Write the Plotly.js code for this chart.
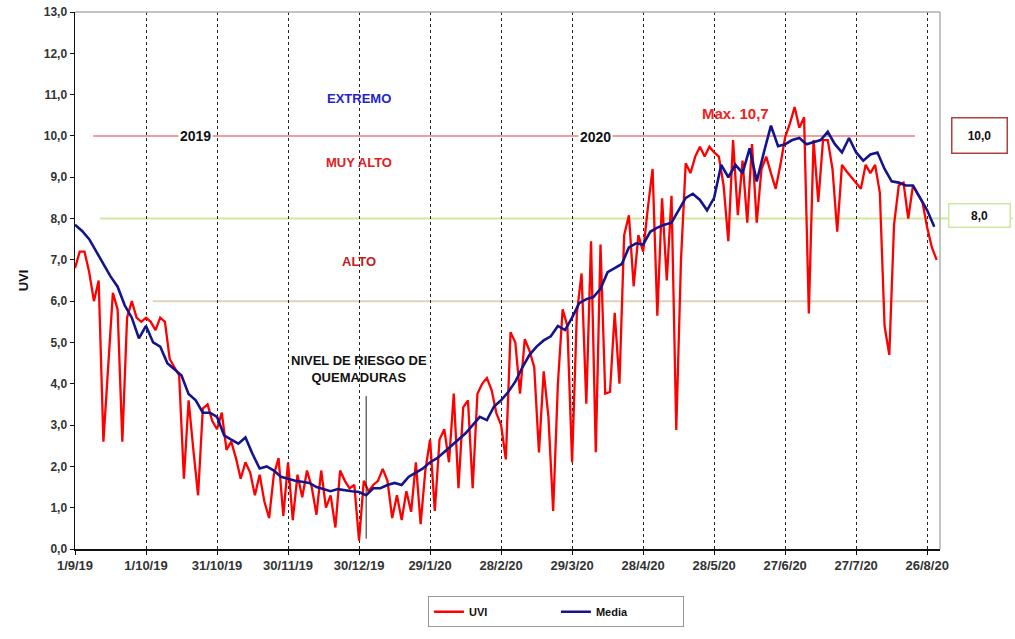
<!DOCTYPE html>
<html><head><meta charset="utf-8">
<script src="https://cdn.plot.ly/plotly-3.0.1.min.js"></script>
<style>html,body{margin:0;padding:0;background:#fff}#chart{width:1015px;height:639px}</style>
</head><body><div id="chart"></div>
<script>
const startDate = "2019-09-01";
const uviStepDays = 2;
const uvi = [
  6.8, 7.2, 7.2, 6.7, 6.0, 6.5, 2.6, 4.5, 6.2, 5.8,
  2.6, 5.6, 6.0, 5.6, 5.5, 5.6, 5.5, 5.3, 5.6, 5.5,
  4.6, 4.4, 4.2, 1.7, 3.6, 2.4, 1.3, 3.4, 3.5, 3.1,
  2.9, 3.3, 2.4, 2.6, 2.2, 1.7, 2.1, 1.85, 1.3, 1.8,
  1.15, 0.75, 1.8, 2.2, 0.8, 2.1, 0.7, 1.8, 1.25, 1.9,
  1.5, 0.83, 1.9, 1.0, 1.3, 0.52, 1.9, 1.65, 1.47, 1.55,
  0.2, 1.65, 1.4, 1.55, 1.65, 1.94, 1.65, 0.75, 1.3, 0.7,
  1.4, 0.9, 2.1, 0.6, 1.9, 2.65, 0.92, 2.65, 2.9, 2.1,
  3.76, 1.47, 3.43, 3.6, 1.47, 3.76, 4.0, 4.14, 3.85, 3.29,
  3.0, 2.17, 5.25, 5.0, 3.76, 5.08, 4.8, 4.4, 2.34, 4.3,
  3.2, 0.92, 4.0, 5.8, 5.4, 2.1, 5.7, 6.67, 3.52, 7.45,
  2.34, 7.37, 3.76, 3.8, 5.72, 4.0, 7.6, 8.08, 6.36, 7.6,
  7.2, 8.25, 9.2, 5.65, 8.49, 6.5, 8.55, 2.88, 7.0, 9.34,
  9.1, 9.5, 9.74, 9.5, 9.74, 9.6, 9.5, 8.8, 7.45, 9.9,
  8.08, 9.4, 7.9, 9.8, 7.9, 9.2, 9.5, 9.1, 8.72, 9.3,
  9.97, 10.3, 10.7, 10.2, 10.45, 5.7, 9.9, 8.4, 9.9, 9.9,
  9.2, 7.68, 9.3, 9.14, 9.0, 8.87, 8.72, 9.3, 9.1, 9.3,
  8.63, 5.4, 4.7, 7.85, 8.8, 8.87, 8.0, 8.8, 8.6, 8.4,
  7.78, 7.3, 7.0
];
const mediaStepDays = 3;
const media = [
  7.85, 7.7, 7.5, 7.2, 6.9, 6.6, 6.35, 5.9, 5.6, 5.1,
  5.4, 5.0, 4.9, 4.5, 4.35, 4.2, 3.75, 3.6, 3.3, 3.3,
  3.2, 2.75, 2.65, 2.55, 2.7, 2.3, 1.95, 2.0, 1.9, 1.75,
  1.7, 1.65, 1.63, 1.6, 1.5, 1.45, 1.4, 1.45, 1.42, 1.4,
  1.38, 1.3, 1.47, 1.47, 1.55, 1.6, 1.55, 1.75, 1.85, 1.95,
  2.1, 2.2, 2.35, 2.5, 2.65, 2.8, 3.0, 3.2, 3.12, 3.45,
  3.6, 3.8, 4.05, 4.4, 4.7, 4.9, 5.05, 5.15, 5.4, 5.3,
  5.6, 5.95, 6.05, 6.1, 6.3, 6.7, 6.8, 6.9, 7.3, 7.4,
  7.37, 7.68, 7.78, 7.85, 7.9, 8.2, 8.5, 8.6, 8.45, 8.2,
  8.5, 9.3, 9.0, 9.3, 9.1, 9.7, 8.9, 9.6, 10.25, 9.75,
  9.8, 9.9, 9.95, 9.8, 9.85, 9.9, 10.1, 9.8, 9.6, 9.95,
  9.6, 9.4, 9.55, 9.6, 9.2, 8.9, 8.87, 8.8, 8.8, 8.5,
  8.2, 7.8
];
const tickDates = ["2019-09-01","2019-10-01","2019-10-31","2019-11-30","2019-12-30","2020-01-29","2020-02-28","2020-03-29","2020-04-28","2020-05-28","2020-06-27","2020-07-27","2020-08-26"];
const tickLabels = ["1/9/19","1/10/19","31/10/19","30/11/19","30/12/19","29/1/20","28/2/20","29/3/20","28/4/20","28/5/20","27/6/20","27/7/20","26/8/20"];
const riskLevels = [10, 8, 6];
const riskLevelLabels = ["10,0", "8,0"];
const yMax = 13;

function addDays(s, n) {
  const d = new Date(s + "T00:00:00Z");
  d.setUTCDate(d.getUTCDate() + n);
  return d.toISOString().slice(0, 10);
}
const uviX = uvi.map((v, i) => addDays(startDate, i * uviStepDays));
const mediaX = media.map((v, i) => addDays(startDate, i * mediaStepDays));

const F = "Liberation Sans, Arial, sans-serif";
const traces = [
  {x: uviX, y: uvi, type: "scatter", mode: "lines", name: "UVI",
   line: {color: "#ff0000", width: 2.3}},
  {x: mediaX, y: media, type: "scatter", mode: "lines", name: "Media",
   line: {color: "#14148c", width: 2.6}}
];

const shapes = [
  {type: "line", xref: "paper", yref: "paper", x0: 0.021, x1: 0.971, y0: riskLevels[0] / yMax, y1: riskLevels[0] / yMax,
   line: {color: "#e88080", width: 1.5}, layer: "below"},
  {type: "line", xref: "paper", yref: "paper", x0: 0.029, x1: 1.084, y0: riskLevels[1] / yMax, y1: riskLevels[1] / yMax,
   line: {color: "#cfe8a0", width: 2}, layer: "below"},
  {type: "line", xref: "paper", yref: "paper", x0: 0.09, x1: 0.985, y0: riskLevels[2] / yMax, y1: riskLevels[2] / yMax,
   line: {color: "#e0d2bc", width: 2}, layer: "below"},
  {type: "line", xref: "paper", yref: "paper", x0: 0, x1: 1, y0: 1, y1: 1, line: {color: "#b0b0b0", width: 1.5}},
  {type: "line", xref: "paper", yref: "paper", x0: 1, x1: 1, y0: 0, y1: 1, line: {color: "#b0b0b0", width: 1.5}},
  {type: "line", xref: "x", yref: "y", x0: "2020-01-02", x1: "2020-01-02", y0: 0.25, y1: 3.7, line: {color: "#222", width: 1}}
];

const ann = (text, x, y, color, size, extra) => Object.assign({
  text: text, x: x, y: y, xref: "x", yref: "y", showarrow: false,
  font: {family: F, size: size, color: color, weight: "bold"}
}, extra || {});

const annotations = [
  ann("EXTREMO", "2019-12-30", 10.9, "#2525c8", 13),
  ann("MUY ALTO", "2019-12-30", 9.35, "#e02020", 13),
  ann("ALTO", "2019-12-30", 6.95, "#c02020", 13),
  ann("2019", "2019-10-22", 10.0, "#111", 14, {bgcolor: "#fff"}),
  ann("2020", "2020-04-08", 9.97, "#111", 14, {bgcolor: "#fff"}),
  ann("Max. 10,7", "2020-06-06", 10.55, "#ee2020", 15),
  ann("NIVEL DE RIESGO DE<br>QUEMADURAS", "2019-12-30", 4.35, "#111", 13),
  {text: riskLevelLabels[0], xref: "paper", yref: "y", x: 1.046, y: riskLevels[0], xanchor: "center", yanchor: "middle", showarrow: false,
   width: 52, height: 32, bordercolor: "#b04040", borderwidth: 1.5, bgcolor: "#fff",
   font: {family: F, size: 12, color: "#111", weight: "bold"}},
  {text: riskLevelLabels[1], xref: "paper", yref: "y", x: 1.046, y: riskLevels[1] + 0.08, xanchor: "center", yanchor: "middle", showarrow: false,
   width: 58, height: 20, bordercolor: "#cfe8a0", borderwidth: 1.5, bgcolor: "#fff",
   font: {family: F, size: 12, color: "#111", weight: "bold"}}
];

const layout = {
  width: 1015, height: 639,
  margin: {l: 75, r: 75, t: 12, b: 77},
  paper_bgcolor: "#fff", plot_bgcolor: "#fff",
  font: {family: F, color: "#222"},
  showlegend: true,
  legend: {orientation: "h", x: 0.556, xanchor: "center", y: -0.088, yanchor: "top",
           bordercolor: "#999", borderwidth: 1, bgcolor: "#fff",
           entrywidth: 82, font: {family: F, size: 11, color: "#111", weight: "bold"}},
  xaxis: {
    type: "date", range: ["2019-09-01", "2020-08-31 10:00"],
    tickmode: "array", tickvals: tickDates, ticktext: tickLabels,
    showgrid: true, gridcolor: "#222", griddash: "dot", gridwidth: 1,
    showline: true, linecolor: "#111", linewidth: 1.5,
    ticks: "outside", ticklen: 4, tickcolor: "#111",
    tickfont: {family: F, size: 13, color: "#333", weight: "bold"},
    zeroline: false
  },
  yaxis: {
    range: [0, yMax], dtick: 1, tick0: 0, tickformat: ".1f",
    showgrid: false, zeroline: false,
    showline: true, linecolor: "#111", linewidth: 1.5,
    ticks: "outside", ticklen: 4, tickcolor: "#111",
    tickfont: {family: F, size: 12, color: "#333", weight: "bold"},
    title: {text: "UVI", font: {family: F, size: 13, color: "#111", weight: "bold"}, standoff: 12}
  },
  separators: ",.",
  shapes: shapes,
  annotations: annotations
};

Plotly.newPlot("chart", traces, layout, {displayModeBar: false, staticPlot: true});
</script>
</body></html>
